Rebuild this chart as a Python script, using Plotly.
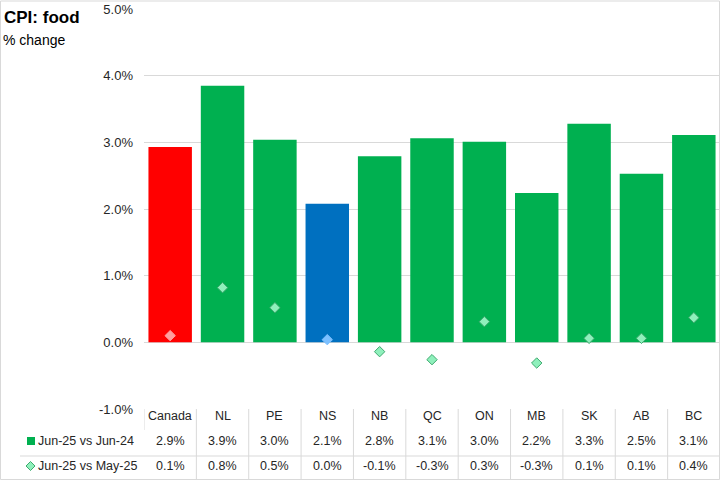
import plotly.graph_objects as go

categories = ["Canada", "NL", "PE", "NS", "NB", "QC", "ON", "MB", "SK", "AB", "BC"]
yoy = [2.93, 3.85, 3.04, 2.08, 2.79, 3.06, 3.01, 2.24, 3.28, 2.53, 3.11]
mom = [0.10, 0.82, 0.52, 0.04, -0.14, -0.26, 0.31, -0.31, 0.06, 0.06, 0.37]
series_names = ["Jun-25 vs Jun-24", "Jun-25 vs May-25"]
y_ticks = [-1, 0, 1, 2, 3, 4, 5]

GREEN = "#00B050"
bar_colors = ["#FF0000", GREEN, GREEN, "#0070C0"] + [GREEN] * 7
dia_fill = ["#FF9F9F", "#8FF0BC", "#8FF0BC", "#7CC0FF"] + ["#8FF0BC"] * 7
dia_line = ["#FF9F9F", "#3DAA6E", "#3DAA6E", "#7CC0FF"] + ["#3DAA6E"] * 7

W, H = 721, 481
L, R, T, B = 144, 1, 9, 72
PW, PH = W - L - R, H - T - B


def px(x):
    return (x - L) / PW


def py(y):
    return (H - B - y) / PH


TXT = "#262626"
GRID = "#D9D9D9"
FONT = "Liberation Sans"

fig = go.Figure()
fig.add_trace(go.Bar(x=categories, y=yoy, marker=dict(color=bar_colors, line=dict(width=0)),
                     name=series_names[0], showlegend=False))
fig.add_trace(go.Scatter(x=categories, y=mom, mode="markers", name=series_names[1], showlegend=False,
                         marker=dict(symbol="diamond", size=8, color=dia_fill,
                                     line=dict(color=dia_line, width=1))))

ann = []
shapes = []
# title
ann.append(dict(text="<b>CPI: food</b>", x=px(2), y=py(17), xref="paper", yref="paper",
                xanchor="left", yanchor="middle", showarrow=False,
                font=dict(size=17, color="#000000", family=FONT)))
ann.append(dict(text="% change", x=px(1), y=py(40), xref="paper", yref="paper",
                xanchor="left", yanchor="middle", showarrow=False,
                font=dict(size=14, color="#000000", family=FONT)))

row_y = [py(416), py(441), py(466)]
for i, c in enumerate(categories):
    ann.append(dict(text=c, x=i, y=row_y[0], xref="x", yref="paper", showarrow=False,
                    xanchor="center", yanchor="middle", font=dict(size=12.5, color=TXT, family=FONT)))
    ann.append(dict(text=f"{yoy[i]:.1f}%", x=i, y=row_y[1], xref="x", yref="paper", showarrow=False,
                    xanchor="center", yanchor="middle", font=dict(size=12.5, color=TXT, family=FONT)))
    ann.append(dict(text=f"{mom[i]:.1f}%", x=i, y=row_y[2], xref="x", yref="paper", showarrow=False,
                    xanchor="center", yanchor="middle", font=dict(size=12.5, color=TXT, family=FONT)))

for k, s in enumerate(series_names):
    ann.append(dict(text=s, x=px(36), y=row_y[k + 1], xref="paper", yref="paper", showarrow=False,
                    xanchor="left", yanchor="middle", font=dict(size=12.5, color=TXT, family=FONT)))

# legend keys
shapes.append(dict(type="rect", xref="paper", yref="paper", x0=px(27), x1=px(35), y0=py(445), y1=py(437),
                   fillcolor=GREEN, line=dict(width=0)))
cx, cy, d = 30.5, 466, 4.5
shapes.append(dict(type="path", xref="paper", yref="paper",
                   path=f"M {px(cx-d)} {py(cy)} L {px(cx)} {py(cy-d)} L {px(cx+d)} {py(cy)} L {px(cx)} {py(cy+d)} Z",
                   fillcolor="#8FF0BC", line=dict(color="#3DAA6E", width=1)))

# table lines
for k in range(1, len(categories) + 1):
    shapes.append(dict(type="line", xref="x", yref="paper", x0=k - 0.5, x1=k - 0.5,
                       y0=py(409), y1=py(479), line=dict(color=GRID, width=1)))
shapes.append(dict(type="line", xref="x", yref="paper", x0=-0.5, x1=-0.5,
                   y0=py(409), y1=py(430), line=dict(color=GRID, width=1)))
shapes.append(dict(type="line", xref="paper", yref="paper", x0=px(20), x1=px(720),
                   y0=py(456), y1=py(456), line=dict(color=GRID, width=1)))
# chart border
shapes.append(dict(type="rect", xref="paper", yref="paper", x0=px(0.5), x1=px(719.5),
                   y0=py(479.5), y1=py(1), line=dict(color=GRID, width=1)))

fig.update_layout(
    width=W, height=H,
    margin=dict(l=L, r=R, t=T, b=B),
    paper_bgcolor="white", plot_bgcolor="white",
    bargap=0.17,
    showlegend=False,
    annotations=ann,
    shapes=shapes,
    font=dict(family=FONT, color=TXT, size=12),
    xaxis=dict(type="category", range=[-0.5, len(categories) - 0.5], showticklabels=False,
               showgrid=False, zeroline=False, showline=False, ticks=""),
    yaxis=dict(range=[-1, 5], tickvals=y_ticks, ticktext=[f"{v:.1f}%" for v in y_ticks],
               showgrid=True, gridcolor=GRID, gridwidth=1, zeroline=True, zerolinecolor=GRID,
               zerolinewidth=1, showline=False, ticks="", ticklabelstandoff=10,
               tickfont=dict(size=13, color=TXT, family=FONT)),
)

fig.write_html("out.html", config={"displayModeBar": False},
               post_script="document.body.style.margin='0';document.body.style.overflow='hidden';")
